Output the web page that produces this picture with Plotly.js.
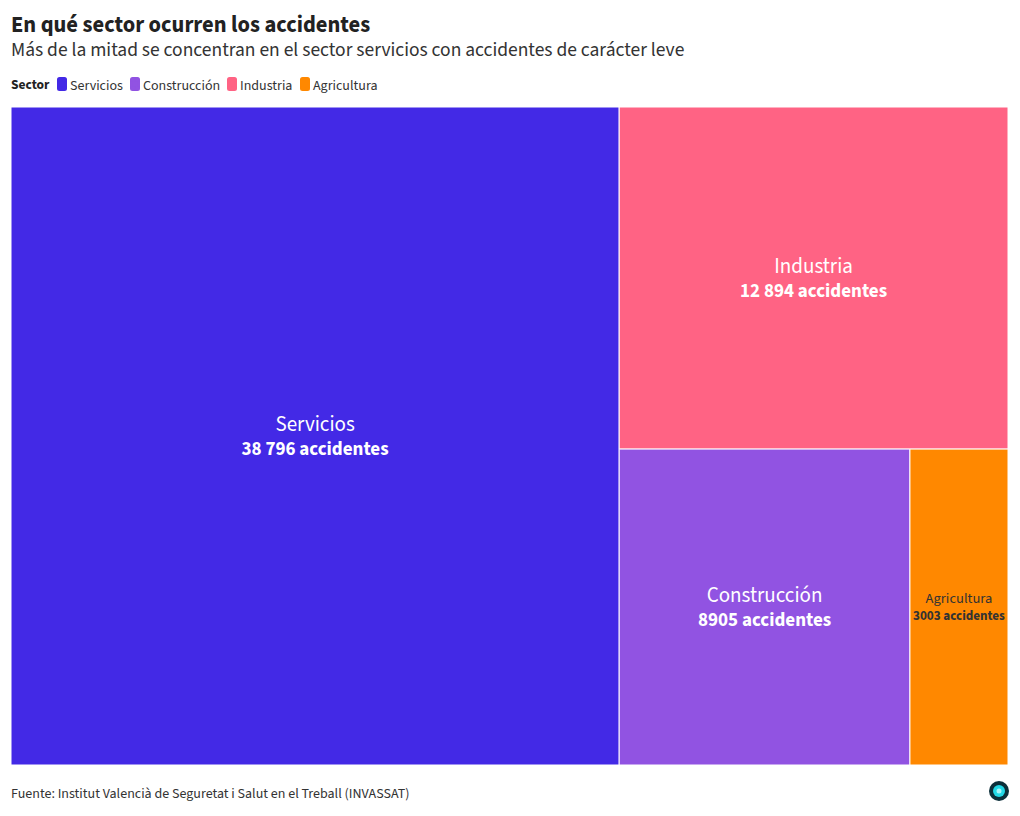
<!DOCTYPE html>
<html>
<head>
<meta charset="utf-8">
<script src="https://cdn.plot.ly/plotly-3.0.1.min.js"></script>
<style>
html,body{margin:0;padding:0;background:#fff;}
#chart{width:1020px;height:816px;}
</style>
</head>
<body>
<div id="chart"></div>
<script>
const sectors = ["Servicios", "Construcción", "Industria", "Agricultura"];
const accidents = [38796, 8905, 12894, 3003];
const sectorColors = ["#4329e6", "#9153e2", "#ff6384", "#ff8800"];
const labelColors = ["#ffffff", "#ffffff", "#ffffff", "#333333"];
const legendTitle = "Sector";
const titleText = "En qué sector ocurren los accidentes";
const subtitleText = "Más de la mitad se concentran en el sector servicios con accidentes de carácter leve";
const sourceText = "Fuente: Institut Valencià de Seguretat i Salut en el Treball (INVASSAT)";

const FONT = "'Source Sans Pro', 'Source Sans 3', Lato, sans-serif";

function fmt(n) {
  const s = String(n);
  if (s.length <= 4) return s;
  return s.replace(/\B(?=(\d{3})+(?!\d))/g, " ");
}

const W = 1020, H = 816;
const M = {l: 11, r: 12, t: 107, b: 51};
const PW = W - M.l - M.r, PH = H - M.t - M.b;
const px = x => (x - M.l) / PW;
const py = y => (H - M.b - y) / PH;

const trace = {
  type: "treemap",
  labels: sectors,
  parents: sectors.map(() => ""),
  values: accidents,
  customdata: accidents.map(fmt),
  branchvalues: "total",
  sort: true,
  marker: {colors: sectorColors, line: {color: "#ffffff", width: 1}, pad: {t: 0, l: 0, r: 0, b: 0}},
  texttemplate: "<span style=\"font-size:21px\">%{label}</span><br><b>%{customdata} accidentes</b>",
  textposition: "middle center",
  textfont: {family: FONT, size: 19, color: labelColors},
  tiling: {packing: "squarify", squarifyratio: 1, pad: 0},
  pathbar: {visible: false},
  hoverinfo: "skip"
};

const annotations = [
  {text: "<b>" + titleText + "</b>", x: 10, y: 8, font: {size: 22.5, color: "#222"}},
  {text: subtitleText, x: 10, y: 35, font: {size: 19.5, color: "#333"}},
  {text: "<b>" + legendTitle + "</b>", x: 10, y: 74, font: {size: 13.5, color: "#222"}},
  {text: sourceText, x: 10, y: 783, font: {size: 14, color: "#333"}}
].map(a => ({
  text: a.text, xref: "paper", yref: "paper", x: px(a.x), y: py(a.y),
  xanchor: "left", yanchor: "top", showarrow: false, align: "left", borderpad: 0,
  font: Object.assign({family: FONT}, a.font)
}));

const shapes = [];
const legendX = [57, 130, 227, 300];
sectors.forEach((s, i) => {
  const x0 = legendX[i];
  const x1 = x0 + 10, y0 = 77, y1 = 91, r = 2.5;
  const X = v => px(v), Y = v => py(v);
  shapes.push({type: "rect", xref: "paper", yref: "paper",
    x0: X(x0), x1: X(x1), y0: Y(y1 - r), y1: Y(y0 + r),
    fillcolor: sectorColors[i], line: {width: 0}});
  shapes.push({type: "rect", xref: "paper", yref: "paper",
    x0: X(x0 + r), x1: X(x1 - r), y0: Y(y1), y1: Y(y0),
    fillcolor: sectorColors[i], line: {width: 0}});
  [[x0 + r, y0 + r], [x1 - r, y0 + r], [x0 + r, y1 - r], [x1 - r, y1 - r]].forEach(c => {
    shapes.push({type: "circle", xref: "paper", yref: "paper",
      x0: X(c[0] - r), x1: X(c[0] + r), y0: Y(c[1] + r), y1: Y(c[1] - r),
      fillcolor: sectorColors[i], line: {width: 0}});
  });
  annotations.push({text: s, xref: "paper", yref: "paper", x: px(x0 + 11), y: py(74),
    xanchor: "left", yanchor: "top", showarrow: false,
    font: {family: FONT, size: 14, color: "#333"}});
});
// logo
shapes.push({type: "circle", xref: "paper", yref: "paper",
  x0: px(989), x1: px(1009), y0: py(801), y1: py(781), fillcolor: "#0c2f3a", line: {width: 0}});
shapes.push({type: "circle", xref: "paper", yref: "paper",
  x0: px(993), x1: px(1005), y0: py(797), y1: py(785), fillcolor: "#22d8e6", line: {width: 0}});
shapes.push({type: "circle", xref: "paper", yref: "paper",
  x0: px(996.5), x1: px(1001.5), y0: py(793.5), y1: py(788.5), fillcolor: "#a8f6fa", line: {width: 0}});

const layout = {
  width: W, height: H,
  margin: M,
  paper_bgcolor: "#ffffff",
  plot_bgcolor: "#ffffff",
  font: {family: FONT},
  showlegend: false,
  annotations: annotations,
  shapes: shapes,
  treemapcolorway: sectorColors
};

Plotly.newPlot("chart", [trace], layout, {displayModeBar: false, staticPlot: true});
</script>
</body>
</html>
